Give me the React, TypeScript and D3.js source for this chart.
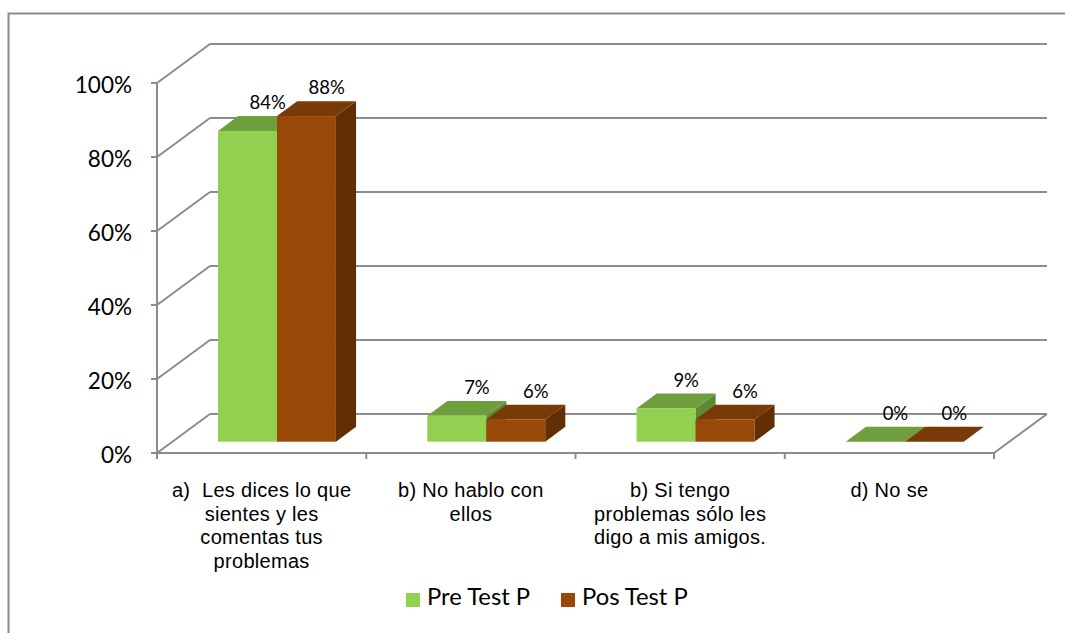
import React from "react";
import * as d3 from "d3";

const categories = ["a", "b", "c", "d"];
const categoryLabels = [
  ["a)  Les dices lo que", "sientes y les", "comentas tus", "problemas"],
  ["b) No hablo con", "ellos"],
  ["b) Si tengo", "problemas sólo les", "digo a mis amigos."],
  ["d) No se"],
];
const seriesNames = ["Pre Test P", "Pos Test P"];
const preTest = [0.84, 0.07, 0.09, 0];
const posTest = [0.88, 0.06, 0.06, 0];
const yTicks = [0, 0.2, 0.4, 0.6, 0.8, 1];

const W = 1065;
const H = 633;
const X0 = 157;
const X1 = 994;
const Y0 = 453;
const Y1 = 83;
const DX = 53;
const DY = -39;
const F_FRONT = 0.29;
const F_DEPTH = 0.38;

const colors = {
  front: ["#92d050", "#984807"],
  top: ["#6f9e3c", "#783a06"],
  side: ["#5b8a32", "#622f04"],
};
const grid = "#8c8c8c";

const App = () => {
  const x = d3.scaleBand().domain(categories).range([X0, X1]);
  const xs = d3
    .scaleBand()
    .domain(seriesNames)
    .range([0, x.bandwidth()])
    .paddingOuter(0.775)
    .paddingInner(0);
  const y = d3.scaleLinear().domain([0, 1]).range([Y0, Y1]);
  const pct = d3.format(".0%");

  const fdx = F_FRONT * DX;
  const fdy = F_FRONT * DY;
  const bdx = F_DEPTH * DX;
  const bdy = F_DEPTH * DY;

  const data = [preTest, posTest];

  const bars: any[] = [];
  categories.forEach((c, i) => {
    seriesNames.forEach((s, j) => {
      const v = data[j][i];
      const xl = (x(c) as number) + (xs(s) as number) + fdx;
      const xr = xl + xs.bandwidth();
      const yb = y(0) + fdy;
      const yt = y(v) + fdy;
      bars.push({ key: c + s, j, v, xl, xr, yb, yt });
    });
  });

  const poly = (pts: number[][]) => pts.map(p => p.join(",")).join(" ");

  return (
    <svg
      width={W}
      height={H}
      style={{ position: "fixed", left: 0, top: 0, background: "#fff" }}
    >
      <rect x={0} y={0} width={W} height={H} fill="#fff" />
      <rect
        x={8.5}
        y={13.5}
        width={W + 20}
        height={H + 20}
        fill="none"
        stroke={grid}
        strokeWidth={2}
      />

      {/* walls */}
      <g stroke={grid} strokeWidth={2} fill="none">
        {yTicks.map(t => (
          <g key={t}>
            <line x1={X0} y1={y(t)} x2={X0 + DX} y2={y(t) + DY} />
            <line x1={X0 + DX} y1={y(t) + DY} x2={X1 + DX} y2={y(t) + DY} />
            <line x1={X0 - 6} y1={y(t)} x2={X0} y2={y(t)} />
          </g>
        ))}
        <line x1={X0} y1={y(1)} x2={X0} y2={y(0)} />
        <line x1={X0} y1={y(0)} x2={X1} y2={y(0)} />
        <line x1={X1} y1={y(0)} x2={X1 + DX} y2={y(0) + DY} />
        {categories.map(c => (
          <line key={c} x1={x(c)} y1={y(0)} x2={x(c)} y2={y(0) + 6} />
        ))}
        <line x1={X1} y1={y(0)} x2={X1} y2={y(0) + 6} />
      </g>

      {/* y labels */}
      <g fontFamily="Lato, sans-serif" fontSize={22.5} fill="#000" textAnchor="end">
        {yTicks.map(t => (
          <text key={t} x={132} y={y(t) + 10}>
            {pct(t)}
          </text>
        ))}
      </g>

      {/* bars */}
      {bars.map(b => (
        <g key={b.key}>
          <polygon
            points={poly([
              [b.xr, b.yb],
              [b.xr + bdx, b.yb + bdy],
              [b.xr + bdx, b.yt + bdy],
              [b.xr, b.yt],
            ])}
            fill={colors.side[b.j]}
          />
          <polygon
            points={poly([
              [b.xl, b.yt],
              [b.xr, b.yt],
              [b.xr + bdx, b.yt + bdy],
              [b.xl + bdx, b.yt + bdy],
            ])}
            fill={colors.top[b.j]}
          />
          <rect
            x={b.xl}
            y={b.yt}
            width={b.xr - b.xl}
            height={b.yb - b.yt}
            fill={colors.front[b.j]}
          />
        </g>
      ))}

      {/* data labels */}
      <g fontFamily="Lato, sans-serif" fontSize={18.5} fill="#000" textAnchor="middle">
        {bars.map(b => (
          <text key={b.key} x={(b.xl + b.xr) / 2 + bdx} y={b.yt + bdy - 7}>
            {pct(b.v)}
          </text>
        ))}
      </g>

      {/* category labels */}
      <g
        fontFamily="'Liberation Sans', Arial, sans-serif"
        fontSize={20}
        letterSpacing={0.3}
        fill="#000"
        textAnchor="middle"
      >
        {categories.map((c, i) => (
          <text key={c} x={(x(c) as number) + x.bandwidth() / 2} y={497} style={{ whiteSpace: "pre" }}>
            {categoryLabels[i].map((line, k) => (
              <tspan key={k} x={(x(c) as number) + x.bandwidth() / 2} dy={k === 0 ? 0 : 23.5}>
                {line}
              </tspan>
            ))}
          </text>
        ))}
      </g>

      {/* legend */}
      <g fontFamily="Lato, sans-serif" fontSize={23.8} fill="#000">
        {seriesNames.map((s, j) => (
          <g key={s} transform={`translate(${406 + j * 155},593)`}>
            <rect x={0} y={0} width={14} height={14} fill={colors.front[j]} />
            <text x={21} y={12}>
              {s}
            </text>
          </g>
        ))}
      </g>
    </svg>
  );
};

export default App;
